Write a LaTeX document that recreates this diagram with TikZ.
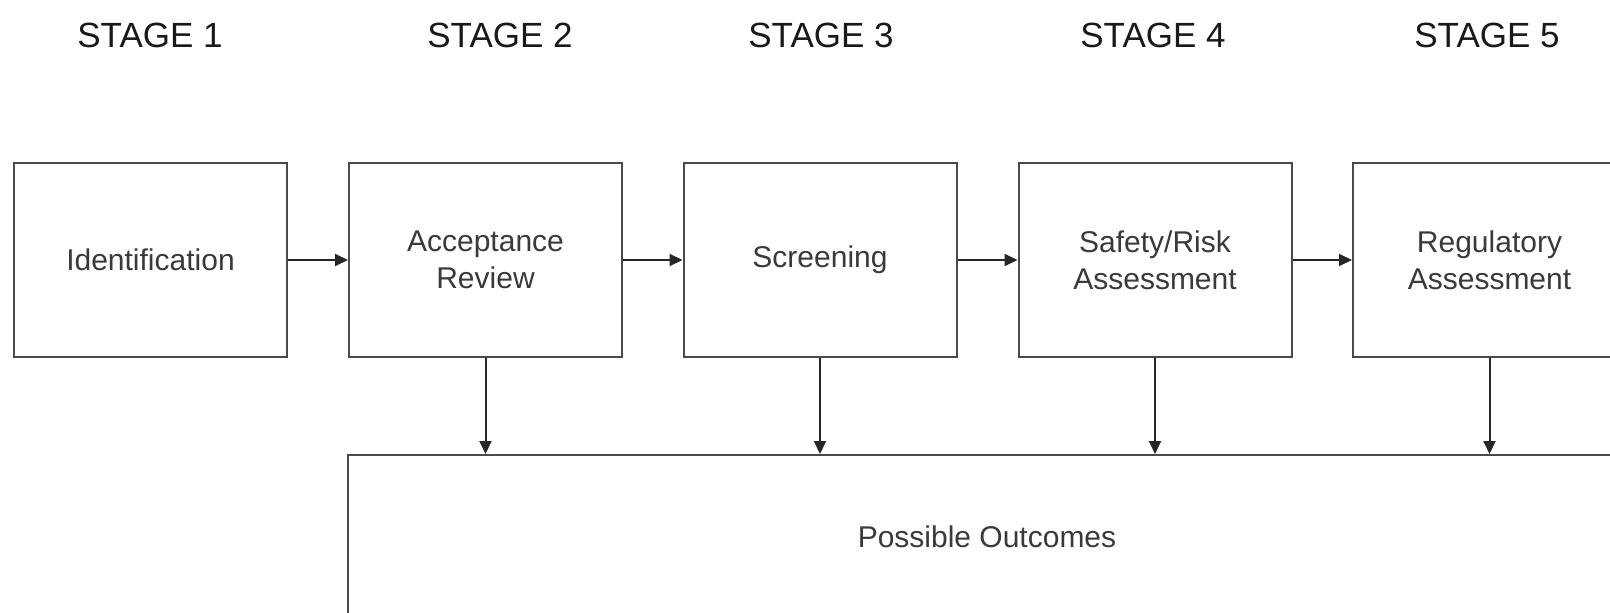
\documentclass[tikz,border=0pt]{standalone}
\usepackage{fontspec}
\setmainfont{Liberation Sans}
\usetikzlibrary{arrows.meta}

\definecolor{boxline}{HTML}{4A4A4A}
\definecolor{boxtext}{HTML}{3A3A3A}

\tikzset{
  stagebox/.style={rectangle,draw=boxline,line width=2pt,minimum width=273pt,minimum height=194pt,
    align=center,text=boxtext,font=\fontsize{30}{37}\selectfont},
  stagetitle/.style={anchor=base,text=black!90,font=\fontsize{35}{40}\selectfont},
  flow/.style={-{Triangle[length=13pt,width=12pt]},line width=2pt,black!85}
}

\begin{document}
\begin{tikzpicture}[x=1pt,y=-1pt]
\clip (0,0) rectangle (1610,613);
\fill[white] (0,0) rectangle (1610,613);

\node[stagetitle] (t1) at (150,47) {STAGE 1};
\node[stagetitle] (t2) at (500,47) {STAGE 2};
\node[stagetitle] (t3) at (821,47) {STAGE 3};
\node[stagetitle] (t4) at (1153,47) {STAGE 4};
\node[stagetitle] (t5) at (1487,47) {STAGE 5};

\node[stagebox] (s1) at (150.5,260) {Identification};
\node[stagebox] (s2) at (485.5,260) {Acceptance\\Review};
\node[stagebox] (s3) at (820,260) {Screening};
\node[stagebox] (s4) at (1155,260) {Safety/Risk\\Assessment};
\node[stagebox] (s5) at (1489.5,260) {Regulatory\\Assessment};

\node[stagebox,minimum width=1278pt,minimum height=164pt] (o) at (987,537) {Possible Outcomes};


\draw[flow] (s1)--(s2);
\draw[flow] (s2)--(s3);
\draw[flow] (s3)--(s4);
\draw[flow] (s4)--(s5);
\draw[flow] (s2.south)--(s2.south |- o.north);
\draw[flow] (s3.south)--(s3.south |- o.north);
\draw[flow] (s4.south)--(s4.south |- o.north);
\draw[flow] (s5.south)--(s5.south |- o.north);
\end{tikzpicture}
\end{document}
